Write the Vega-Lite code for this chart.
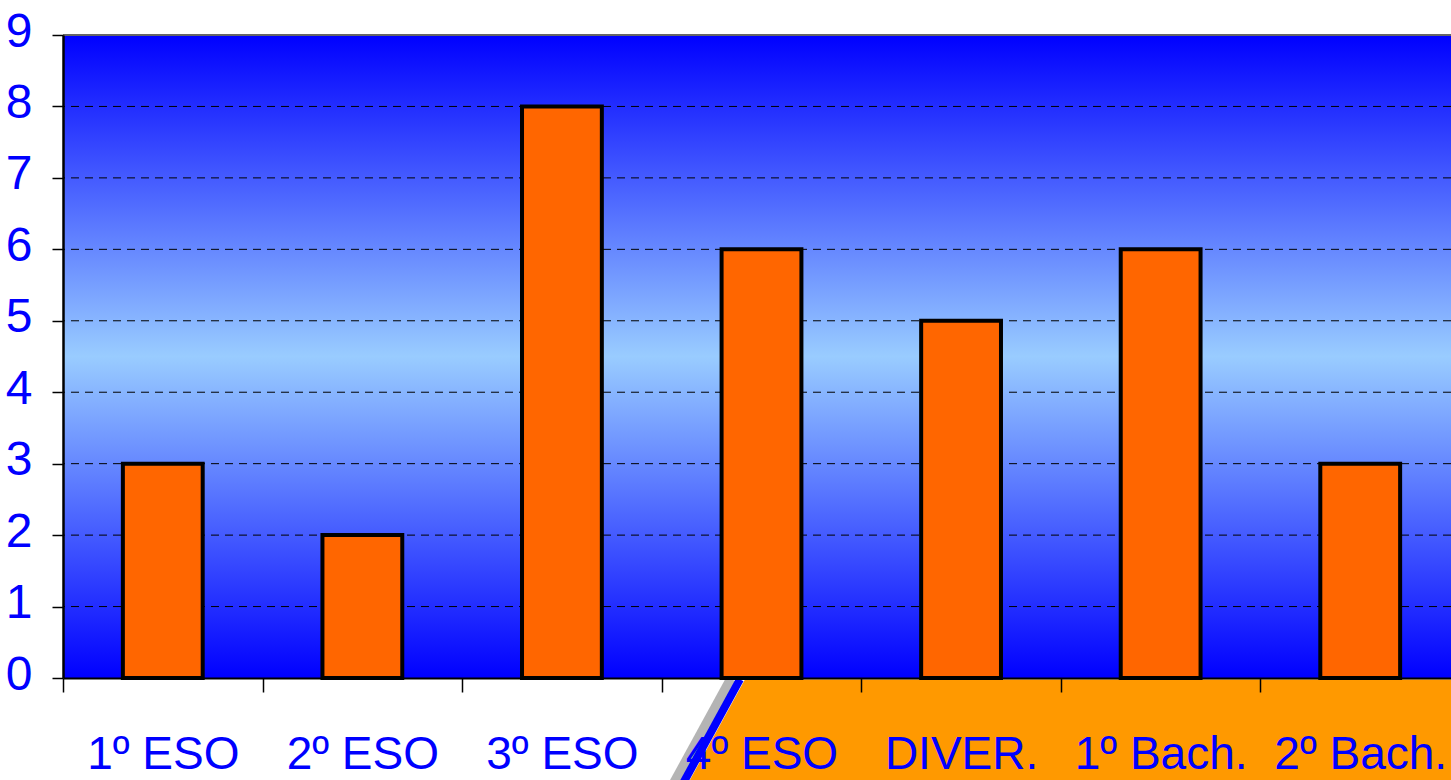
{
  "$schema": "https://vega.github.io/schema/vega-lite/v6.json",
  "autosize": "none",
  "width": 1388,
  "height": 643,
  "padding": {"left": 63, "top": 35, "right": 0, "bottom": 102},
  "background": "white",
  "config": {"view": {"stroke": null}},
  "datasets": {
    "bars": [
      {"curso": "1º ESO", "valor": 3},
      {"curso": "2º ESO", "valor": 2},
      {"curso": "3º ESO", "valor": 8},
      {"curso": "4º ESO", "valor": 6},
      {"curso": "DIVER.", "valor": 5},
      {"curso": "1º Bach.", "valor": 6},
      {"curso": "2º Bach.", "valor": 3}
    ],
    "grid": [{"v": 1}, {"v": 2}, {"v": 3}, {"v": 4}, {"v": 5}, {"v": 6}, {"v": 7}, {"v": 8}],
    "edge": [{"ey": -0.02, "ex": 3.417}, {"ey": -1.5, "ex": 3.127}]
  },
  "layer": [
    {
      "data": {"name": "bars"},
      "mark": {
        "type": "rect",
        "fill": {
          "gradient": "linear", "x1": 0, "y1": 0, "x2": 0, "y2": 1,
          "stops": [
            {"offset": 0, "color": "#0000FF"},
            {"offset": 0.5, "color": "#99CCFF"},
            {"offset": 1, "color": "#0000FF"}
          ]
        }
      },
      "encoding": {
        "y": {"datum": 0, "type": "quantitative", "scale": {"domain": [0, 9], "nice": false, "zero": true}},
        "y2": {"datum": 9}
      }
    },
    {
      "data": {"name": "edge"},
      "mark": {"type": "area", "orient": "horizontal", "color": "#FF9900", "clip": false},
      "encoding": {
        "y": {"field": "ey", "type": "quantitative"},
        "x": {"field": "ex", "type": "quantitative", "scale": {"domain": [0, 7], "range": [0, 1397]}, "axis": null},
        "x2": {"datum": 7.5}
      }
    },
    {
      "data": {"name": "edge"},
      "mark": {"type": "line", "color": "#444444", "strokeWidth": 12, "opacity": 0.4, "xOffset": -13, "clip": false},
      "encoding": {
        "y": {"field": "ey", "type": "quantitative"},
        "x": {"field": "ex", "type": "quantitative", "scale": {"domain": [0, 7], "range": [0, 1397]}, "axis": null}
      }
    },
    {
      "data": {"name": "edge"},
      "mark": {"type": "line", "color": "#0000FF", "strokeWidth": 8, "xOffset": -5, "clip": false},
      "encoding": {
        "y": {"field": "ey", "type": "quantitative"},
        "x": {"field": "ex", "type": "quantitative", "scale": {"domain": [0, 7], "range": [0, 1397]}, "axis": null}
      }
    },
    {
      "data": {"name": "grid"},
      "mark": {"type": "rule", "color": "#000000", "strokeWidth": 1, "strokeDash": [8, 6]},
      "encoding": {"y": {"field": "v", "type": "quantitative"}}
    },
    {
      "data": {"name": "grid"},
      "mark": {"type": "rule", "color": "#666666", "strokeWidth": 2},
      "encoding": {"y": {"datum": 9, "type": "quantitative"}}
    },
    {
      "data": {"name": "bars"},
      "mark": {"type": "bar", "color": "#FF6600", "stroke": "#000000", "strokeWidth": 4, "width": {"band": 0.4}},
      "encoding": {
        "x": {
          "field": "curso", "type": "nominal", "sort": null,
          "scale": {"type": "band", "paddingInner": 0, "paddingOuter": 0, "range": [0, 1397]},
          "axis": {
            "title": null, "zindex": 1, "labelAngle": 0,
            "labelFont": "Liberation Sans", "labelLimit": 0,
            "labelFontSize": 46, "labelColor": "#0000FF", "labelPadding": 40,
            "tickBand": "extent", "tickSize": 14, "tickColor": "#000000", "tickWidth": 1.5,
            "domainColor": "#000000", "domainWidth": 2, "labelOverlap": false, "labelBound": false
          }
        },
        "y": {
          "field": "valor", "type": "quantitative",
          "scale": {"domain": [0, 9], "nice": false, "zero": true},
          "axis": {
            "title": null, "zindex": 1, "grid": false, "format": "d",
            "values": [0, 1, 2, 3, 4, 5, 6, 7, 8, 9],
            "labelFont": "Liberation Sans", "labelLimit": 0,
            "labelFontSize": 48, "labelColor": "#0000FF", "labelPadding": 20, "labelOffset": -3,
            "labelFlush": false, "labelOverlap": false, "labelBound": false,
            "tickSize": 11, "tickColor": "#000000", "tickWidth": 1.5,
            "domainColor": "#000000", "domainWidth": 2.5
          }
        }
      }
    }
  ],
  "resolve": {"scale": {"x": "independent"}, "axis": {"x": "independent"}}
}
